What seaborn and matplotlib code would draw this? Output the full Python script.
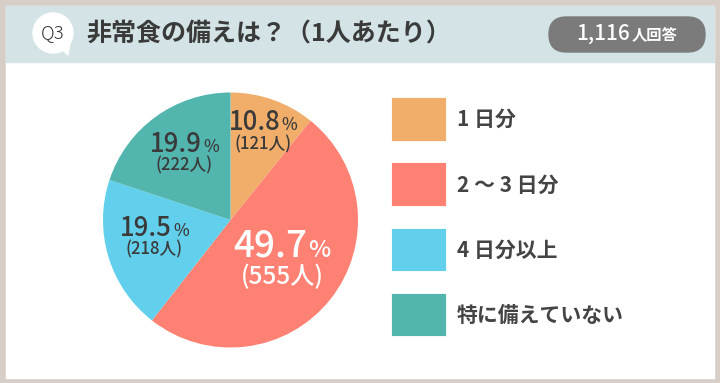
import matplotlib
matplotlib.use("Agg")
import matplotlib.pyplot as plt
import seaborn as sns
import numpy as np
from matplotlib.patches import Rectangle, FancyBboxPatch, Circle, Polygon

sns.set_theme(style="white")
plt.rcParams['font.family'] = ['Noto Sans CJK JP', 'DejaVu Sans']

# ---- data ----
categories = ["1 日分", "2 ～ 3 日分", "4 日分以上", "特に備えていない"]
percents = [10.8, 49.7, 19.5, 19.9]
counts = [121, 555, 218, 222]
colors = ["#F0AE6A", "#FF8173", "#62D0EC", "#52B5AE"]
title = "非常食の備えは？（1人あたり）"
question = "Q3"
total_label = "1,116"
total_suffix = "人回答"

palette = sns.color_palette(colors)

W, H = 720, 383
fig = plt.figure(figsize=(W / 100, H / 100), dpi=100)
fig.patch.set_facecolor("white")


def pixel_axes():
    a = fig.add_axes([0, 0, 1, 1])
    a.set_xlim(0, W)
    a.set_ylim(H, 0)
    a.axis("off")
    return a


# background / frame
bg = pixel_axes()
bg.add_patch(Rectangle((0, 0), W, H, color="#D8CEC8", zorder=0))
bg.add_patch(Rectangle((6, 6), W - 12, H - 11, color="white", zorder=1))
bg.add_patch(Rectangle((6, 6), W - 12, 56, color="#D3E3E6", zorder=2))
bg.add_patch(Circle((53, 33), 20, color="white", zorder=3))
bg.add_patch(Polygon([(58, 46), (70, 43), (68, 55)], closed=True, color="white", zorder=3))

# ---- pie ----
cx, cy, rad = 230.5, 220, 127.5
half = 131
ax = fig.add_axes([(cx - half) / W, (H - cy - half) / H, 2 * half / W, 2 * half / H])
wedges, _ = ax.pie(percents, colors=palette, startangle=90, counterclock=False,
                   radius=1.0, wedgeprops=dict(linewidth=0))
lim = half / rad
ax.set_xlim(-lim, lim)
ax.set_ylim(-lim, lim)
ax.set_aspect("equal")
ax.axis("off")

# overlay for texts
ov = pixel_axes()
fig.canvas.draw()
r = fig.canvas.get_renderer()

ov.text(53, 33.5, question, ha="center", va="center", fontsize=13.5, color="#333333",
        fontweight="light")
ov.text(86, 34, title, ha="left", va="center", fontsize=18, color="#3A3A3A",
        fontweight="bold")

# badge
ov.add_patch(FancyBboxPatch((549, 17), 156, 35, boxstyle="round,pad=0,rounding_size=17.5",
                            color="#7B7B7B", zorder=1))
t1 = ov.text(0, 40, total_label, ha="left", va="baseline", fontsize=15, color="white",
             fontweight="medium", zorder=2)
t2 = ov.text(0, 40, total_suffix, ha="left", va="baseline", fontsize=11, color="white",
             fontweight="bold", zorder=2)
w1 = t1.get_window_extent(r).width
w2 = t2.get_window_extent(r).width
start = 627 - (w1 + w2 + 2) / 2
t1.set_x(start)
t2.set_x(start + w1 + 2)

# legend (manual)
for i, (cat, col) in enumerate(zip(categories, palette)):
    y0 = 97 + i * 65.3
    ov.add_patch(Rectangle((391, y0), 55, 43.5, facecolor=col, edgecolor="#FFFFFF",
                           linewidth=0.6, zorder=1))
    ov.text(457, y0 + 22.5, cat, ha="left", va="center", fontsize=15, color="#444444",
            fontweight="bold", zorder=2)

# pie labels
label_r = [0.732, 0.511, 0.613, 0.633]
angle_adj = [-1.0, 0.5, -3.4, -1.0]
big = [False, True, False, False]
for w, p, c, lr, adj, b in zip(wedges, percents, counts, label_r, angle_adj, big):
    ang = np.deg2rad((w.theta1 + w.theta2) / 2 + adj)
    px = cx + lr * rad * np.cos(ang)
    py = cy - lr * rad * np.sin(ang)
    col = "white" if b else "#3A3A3A"
    fs_num = 26.5 if b else 18.5
    fs_pct = 17 if b else 12
    fs_cnt = 17.5 if b else 12
    off_num = 17 if b else 11.5
    off_cnt = 16.5 if b else 11.5
    cap = 0.733 * fs_num / 72 * 100
    base = py - off_num + cap / 2
    tn = ov.text(0, base, f"{p:.1f}", ha="left", va="baseline", fontsize=fs_num,
                 color=col, fontweight="medium")
    tp = ov.text(0, base, "%", ha="left", va="baseline", fontsize=fs_pct,
                 color=col, fontweight="medium")
    wn = tn.get_window_extent(r).width
    wp = tp.get_window_extent(r).width
    xs = px - (wn + wp + 1) / 2
    tn.set_x(xs)
    tp.set_x(xs + wn + 1)
    ov.text(px, py + off_cnt, f"({c}人)", ha="center", va="center", fontsize=fs_cnt,
            color=col, fontweight="medium")

fig.savefig("out.png", dpi=100, facecolor="white")
